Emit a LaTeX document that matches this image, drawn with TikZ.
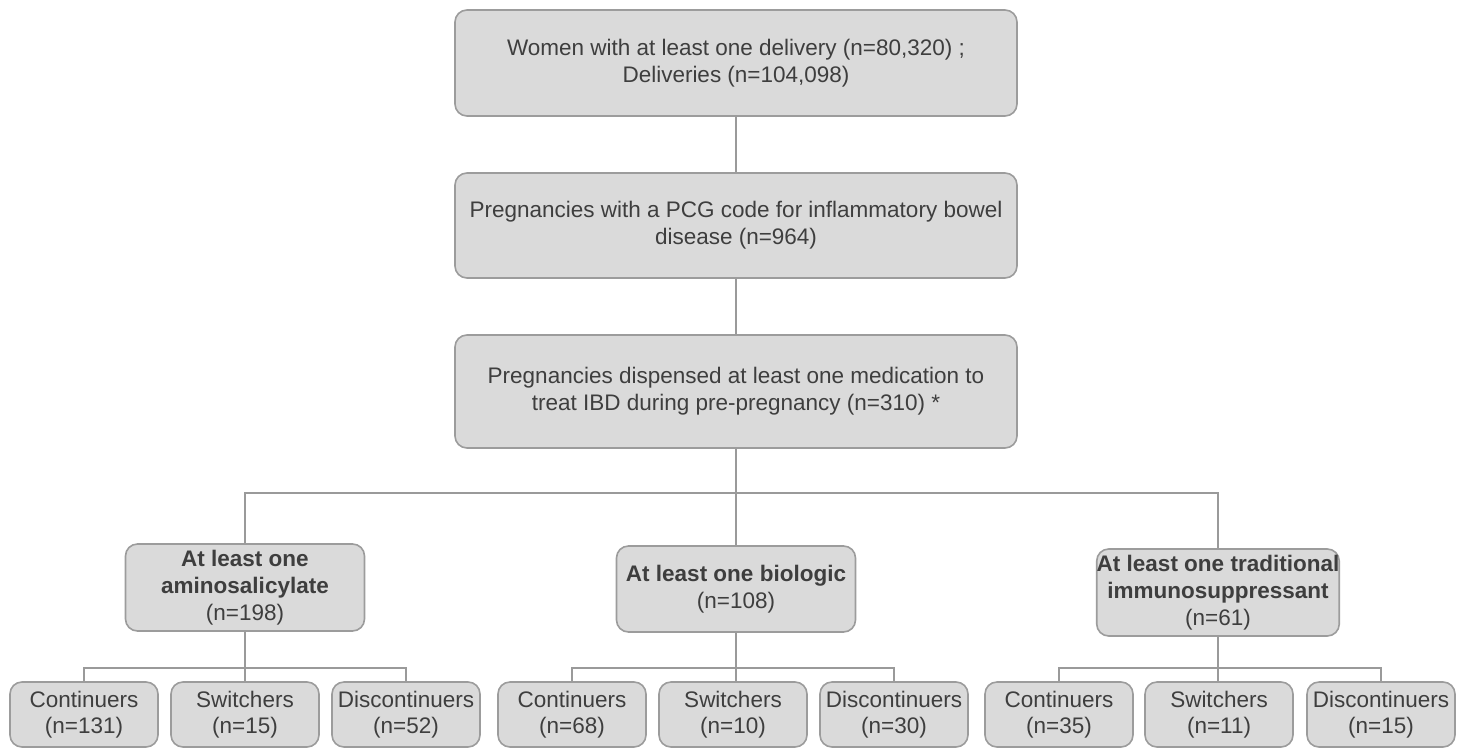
\documentclass[tikz,border=0pt]{standalone}
\usepackage{fontspec}
\setmainfont{Liberation Sans}
\definecolor{boxfill}{HTML}{DADADA}
\definecolor{boxborder}{HTML}{9C9C9C}
\definecolor{linecol}{HTML}{9A9A9A}
\definecolor{textcol}{HTML}{3E3E3E}
\tikzset{
  box/.style={draw=boxborder, fill=boxfill, rounded corners=12pt, line width=1.6pt,
    align=center, inner sep=0pt, text=textcol, font=\fontsize{22.5}{27}\selectfont},
  mainbox/.style={box, minimum width=562pt},
  catbox/.style={box, minimum width=239pt, minimum height=87pt},
  subbox/.style={box, minimum width=148pt, minimum height=65pt, font=\fontsize{22.5}{26}\selectfont},
  conn/.style={draw=linecol, line width=1.6pt}
}
\begin{document}
\begin{tikzpicture}[x=1pt, y=-1pt]
\useasboundingbox[fill=white] (0,0) rectangle (1462,748);

\node[mainbox, minimum height=106pt] (b1) at (736,63)
  {Women with at least one delivery (n=80,320) ;\\Deliveries (n=104,098)};
\node[mainbox, minimum height=105pt] (b2) at (736,225.5)
  {Pregnancies with a PCG code for inflammatory bowel\\disease (n=964)};
\node[mainbox, minimum height=113pt] (b3) at (736,391.5)
  {Pregnancies dispensed at least one medication to\\treat IBD during pre-pregnancy (n=310) *};

\node[catbox] (cA) at (245,587.5) {\textbf{At least one}\\\textbf{aminosalicylate}\\(n=198)};
\node[catbox, minimum height=86pt] (cB) at (736,589) {\textbf{At least one biologic}\\(n=108)};
\node[catbox] (cC) at (1218,592.5) {\textbf{At least one traditional}\\\textbf{immunosuppressant}\\(n=61)};

\node[subbox] (sA1) at (84,714.5) {Continuers\\(n=131)};
\node[subbox] (sA2) at (245,714.5) {Switchers\\(n=15)};
\node[subbox] (sA3) at (406,714.5) {Discontinuers\\(n=52)};
\node[subbox] (sB1) at (572,714.5) {Continuers\\(n=68)};
\node[subbox] (sB2) at (733,714.5) {Switchers\\(n=10)};
\node[subbox] (sB3) at (894,714.5) {Discontinuers\\(n=30)};
\node[subbox] (sC1) at (1059,714.5) {Continuers\\(n=35)};
\node[subbox] (sC2) at (1219,714.5) {Switchers\\(n=11)};
\node[subbox] (sC3) at (1381,714.5) {Discontinuers\\(n=15)};

\coordinate (j) at (736,493);
\coordinate (jA) at (245,668);
\coordinate (jB) at (736,668);
\coordinate (jC) at (1218,668);

\draw[conn] (b1.south) -- (b2.north);
\draw[conn] (b2.south) -- (b3.north);
\draw[conn] (b3.south) -- (j);
\draw[conn] (cA.north) |- (j) -| (cC.north);
\draw[conn] (j) -- (cB.north);

\draw[conn] (cA.south) -- (jA);
\draw[conn] (sA1.north) |- (jA) -| (sA3.north);
\draw[conn] (jA) -- (jA |- sA2.north);
\draw[conn] (cB.south) -- (jB);
\draw[conn] (sB1.north) |- (jB) -| (sB3.north);
\draw[conn] (jB) -- (jB |- sB2.north);
\draw[conn] (cC.south) -- (jC);
\draw[conn] (sC1.north) |- (jC) -| (sC3.north);
\draw[conn] (jC) -- (jC |- sC2.north);
\end{tikzpicture}
\end{document}
